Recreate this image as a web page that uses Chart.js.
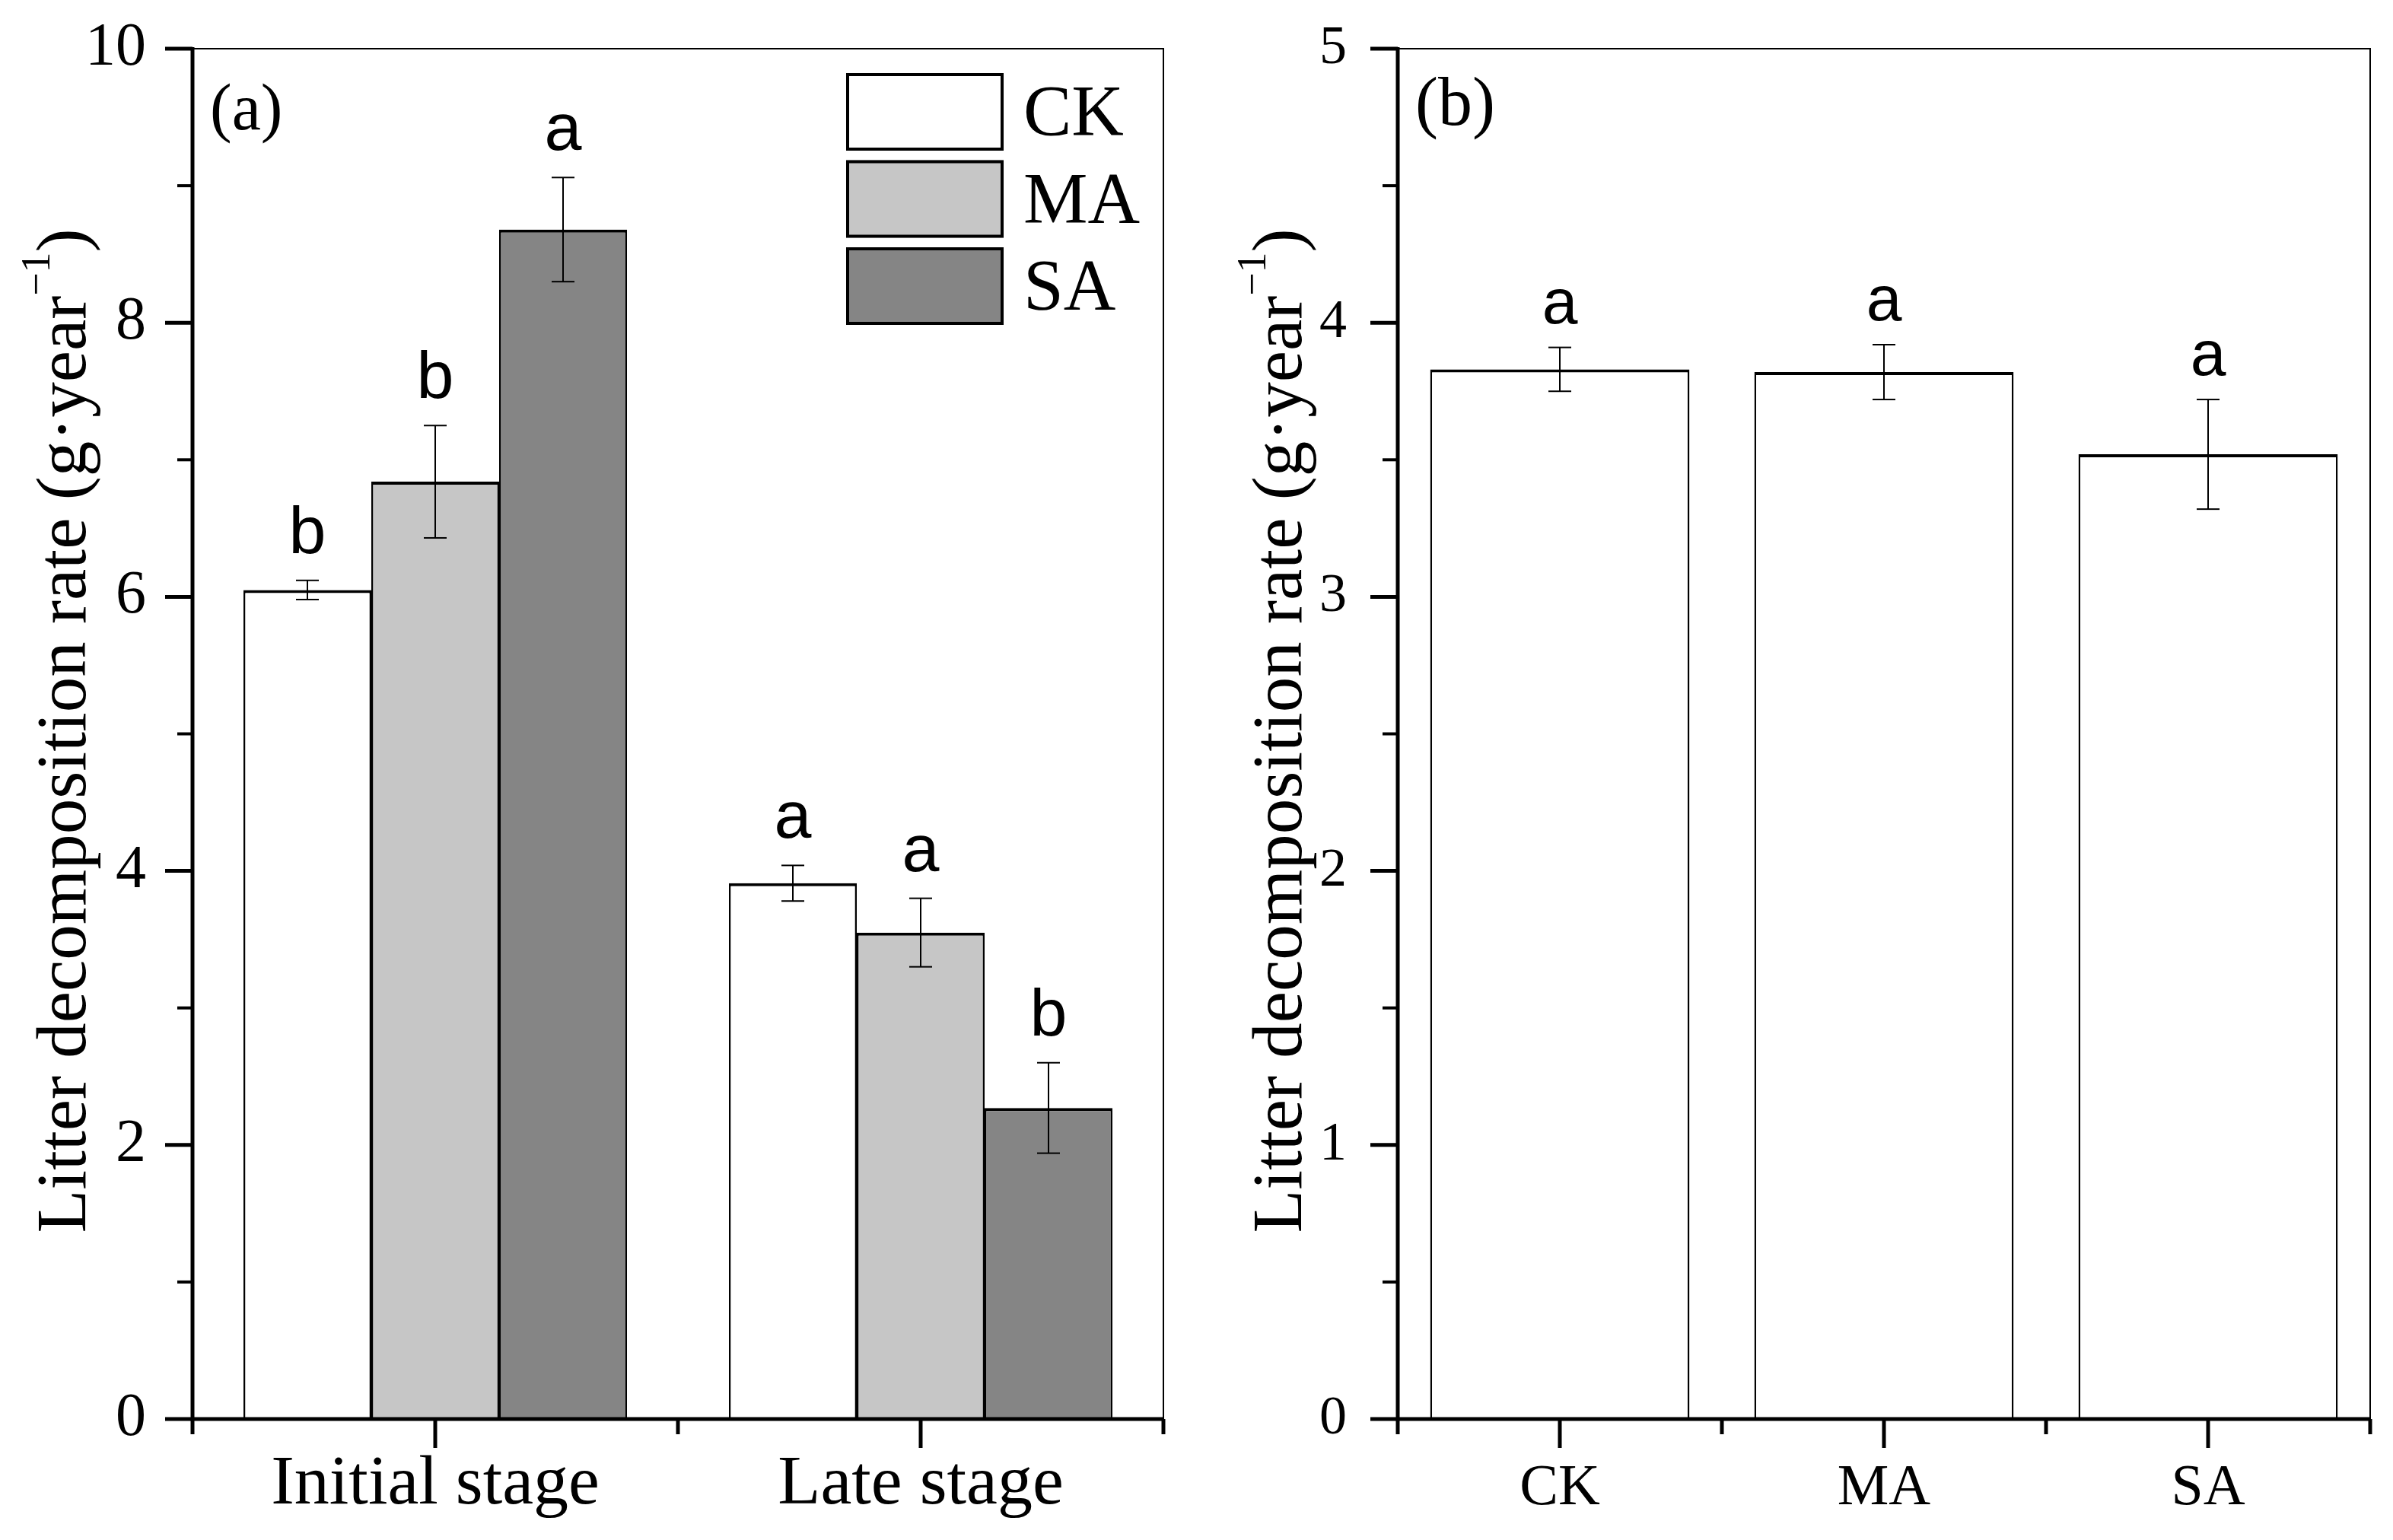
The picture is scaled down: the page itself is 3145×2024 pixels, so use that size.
<!DOCTYPE html>
<html>
<head>
<meta charset="utf-8">
<script src="https://cdn.jsdelivr.net/npm/chart.js@4.4.0/dist/chart.umd.min.js"></script>
<style>
  body { margin: 0; background: #fff; overflow: hidden; }
  canvas { position: absolute; top: 0; }
</style>
</head>
<body>
<canvas id="chartA" width="1600" height="2024" style="left:0"></canvas>
<canvas id="chartB" width="1545" height="2024" style="left:1600px"></canvas>
<script>
// panel (a): stage x treatment
const stages = ['Initial stage', 'Late stage'];
const ckRate = [6.05, 3.91];
const maRate = [6.84, 3.55];
const saRate = [8.68, 2.27];
const ckErr = [0.07, 0.13];
const maErr = [0.41, 0.25];
const saErr = [0.38, 0.33];
const ckSig = ['b', 'a'];
const maSig = ['b', 'a'];
const saSig = ['a', 'b'];

// panel (b): whole period by treatment
const treatments = ['CK', 'MA', 'SA'];
const totalRate = [3.83, 3.82, 3.52];
const totalErr = [0.08, 0.10, 0.20];
const totalSig = ['a', 'a', 'a'];

const yMaxA = 10;
const yMaxB = 5;

const serif = '"Liberation Serif", "Times New Roman", serif';
const sans = '"Liberation Sans", Arial, sans-serif';

function line(ctx, x1, y1, x2, y2) {
    ctx.beginPath();
    ctx.moveTo(x1, y1);
    ctx.lineTo(x2, y2);
    ctx.stroke();
}

function decor(cfg) {
    return {
        id: 'decor',
        afterDatasetsDraw(chart) {
            const ctx = chart.ctx;
            const area = chart.chartArea;
            const xs = chart.scales.x;
            const ys = chart.scales.y;
            ctx.save();
            ctx.strokeStyle = '#000';
            ctx.fillStyle = '#000';

            // error bars and significance letters
            chart.data.datasets.forEach((ds, i) => {
                chart.getDatasetMeta(i).data.forEach((bar, j) => {
                    const hi = ys.getPixelForValue(ds.data[j] + ds.err[j]);
                    const lo = ys.getPixelForValue(ds.data[j] - ds.err[j]);
                    ctx.lineWidth = 2;
                    line(ctx, bar.x, hi, bar.x, lo);
                    line(ctx, bar.x - 15, hi, bar.x + 15, hi);
                    line(ctx, bar.x - 15, lo, bar.x + 15, lo);
                    ctx.font = cfg.sigFont;
                    ctx.textAlign = 'center';
                    ctx.textBaseline = 'alphabetic';
                    ctx.fillText(ds.sig[j], bar.x, hi - cfg.sigGap);
                });
            });

            // frame
            ctx.lineWidth = 2;
            ctx.beginPath();
            ctx.moveTo(area.left, area.top);
            ctx.lineTo(area.right, area.top);
            ctx.lineTo(area.right, area.bottom);
            ctx.stroke();
            ctx.lineWidth = 5;
            ctx.beginPath();
            ctx.moveTo(area.left, area.top - 2);
            ctx.lineTo(area.left, area.bottom);
            ctx.lineTo(area.right + 1, area.bottom);
            ctx.stroke();

            // y ticks, labelled ones are long
            ys.ticks.forEach(t => {
                const py = ys.getPixelForValue(t.value);
                const major = t.label !== '';
                ctx.lineWidth = major ? 5 : 4;
                line(ctx, area.left - (major ? 36 : 20), py, area.left, py);
            });
            // x ticks: long at centres, short at borders
            ctx.lineWidth = 5;
            xs.ticks.forEach((t, i) => {
                const px = xs.getPixelForValue(i);
                line(ctx, px, area.bottom, px, area.bottom + 38);
            });
            for (let i = 0; i <= xs.ticks.length; i++) {
                const px = xs.getPixelForValue(i - 0.5);
                line(ctx, px, area.bottom, px, area.bottom + 20);
            }

            // legend
            if (cfg.legend) {
                chart.data.datasets.forEach((ds, k) => {
                    const bx = area.right - 417;
                    const by = area.top + 32 + k * 114.5;
                    ctx.fillStyle = ds.backgroundColor;
                    ctx.fillRect(bx, by, 207, 102);
                    ctx.lineWidth = 4;
                    ctx.strokeRect(bx + 2, by + 2, 203, 98);
                    ctx.fillStyle = '#000';
                    ctx.font = '95px ' + serif;
                    ctx.textAlign = 'left';
                    ctx.textBaseline = 'alphabetic';
                    ctx.fillText(ds.label, bx + 233, by + 51 + 31);
                });
            }

            // panel letter
            ctx.fillStyle = '#000';
            ctx.font = cfg.panelFont;
            ctx.textAlign = 'left';
            ctx.textBaseline = 'alphabetic';
            ctx.fillText(cfg.panel, area.left + 23, area.top + cfg.panelDy);

            // y title with superscript
            const main = 'Litter decomposition rate (g\u00B7year';
            const sup = '\u22121';
            ctx.font = '93px ' + serif;
            const w1 = ctx.measureText(main).width;
            const w3 = ctx.measureText(')').width;
            ctx.font = '54px ' + serif;
            const w2 = ctx.measureText(sup).width;
            const total = w1 + w2 + w3;
            ctx.translate(cfg.titleX, (area.top + area.bottom) / 2 - 4);
            ctx.rotate(-Math.PI / 2);
            let sx = -total / 2;
            ctx.font = '93px ' + serif;
            ctx.fillText(main, sx, 0);
            sx += w1;
            ctx.font = '54px ' + serif;
            ctx.fillText(sup, sx, -47);
            sx += w2;
            ctx.font = '93px ' + serif;
            ctx.fillText(')', sx, 0);

            ctx.restore();
        }
    };
}

function baseOptions(o) {
    return {
        responsive: false,
        animation: false,
        layout: { padding: o.padding },
        plugins: { legend: { display: false }, tooltip: { enabled: false } },
        scales: {
            x: {
                grid: { display: false, drawTicks: false },
                border: { display: false },
                ticks: {
                    color: '#000',
                    font: { family: serif, size: o.xFont, lineHeight: 1.2 },
                    padding: o.xPad,
                    maxRotation: 0,
                    autoSkip: false
                },
                afterFit: s => { s.height = 159; s.paddingLeft = 0; s.paddingRight = 0; }
            },
            y: {
                min: 0,
                max: o.yMax,
                grid: { display: false, drawTicks: false },
                border: { display: false },
                ticks: {
                    stepSize: o.step,
                    color: '#000',
                    font: { family: serif, size: o.yFont },
                    padding: o.yPad,
                    autoSkip: false,
                    callback: v => (Math.abs(v / o.labelStep - Math.round(v / o.labelStep)) < 1e-6 ? v : '')
                },
                afterFit: s => { s.width = o.yWidth; s.paddingTop = 0; s.paddingBottom = 0; }
            }
        }
    };
}

const barStyle = {
    borderColor: '#000',
    borderWidth: { top: 4, left: 2.5, right: 2.5, bottom: 0 },
    borderSkipped: 'bottom'
};

new Chart(document.getElementById('chartA'), {
    type: 'bar',
    data: {
        labels: stages,
        datasets: [
            { label: 'CK', data: ckRate, err: ckErr, sig: ckSig, backgroundColor: '#ffffff', ...barStyle },
            { label: 'MA', data: maRate, err: maErr, sig: maSig, backgroundColor: '#c6c6c6', ...barStyle },
            { label: 'SA', data: saRate, err: saErr, sig: saSig, backgroundColor: '#858585', ...barStyle }
        ]
    },
    options: Object.assign(baseOptions({
        padding: { top: 64, right: 71, bottom: 0, left: 0 },
        xFont: 92, xPad: 32, yFont: 80, yPad: 61, yWidth: 253,
        yMax: yMaxA, step: 1, labelStep: 2
    }), {
        datasets: { bar: { categoryPercentage: 0.79, barPercentage: 1 } }
    }),
    plugins: [decor({
        sigFont: '88px ' + sans, sigGap: 36, legend: true,
        panel: '(a)', panelFont: '86px ' + serif, panelDy: 106, titleX: 112
    })]
});

new Chart(document.getElementById('chartB'), {
    type: 'bar',
    data: {
        labels: treatments,
        datasets: [
            { label: 'Total', data: totalRate, err: totalErr, sig: totalSig, backgroundColor: '#ffffff', ...barStyle }
        ]
    },
    options: Object.assign(baseOptions({
        padding: { top: 64, right: 30, bottom: 0, left: 0 },
        xFont: 76, xPad: 46, yFont: 72, yPad: 67, yWidth: 237,
        yMax: yMaxB, step: 0.5, labelStep: 1
    }), {
        datasets: { bar: { categoryPercentage: 0.8, barPercentage: 1 } }
    }),
    plugins: [decor({
        sigFont: '84px ' + sans, sigGap: 32, legend: false,
        panel: '(b)', panelFont: '90px ' + serif, panelDy: 100, titleX: 110
    })]
});
</script>
</body>
</html>
